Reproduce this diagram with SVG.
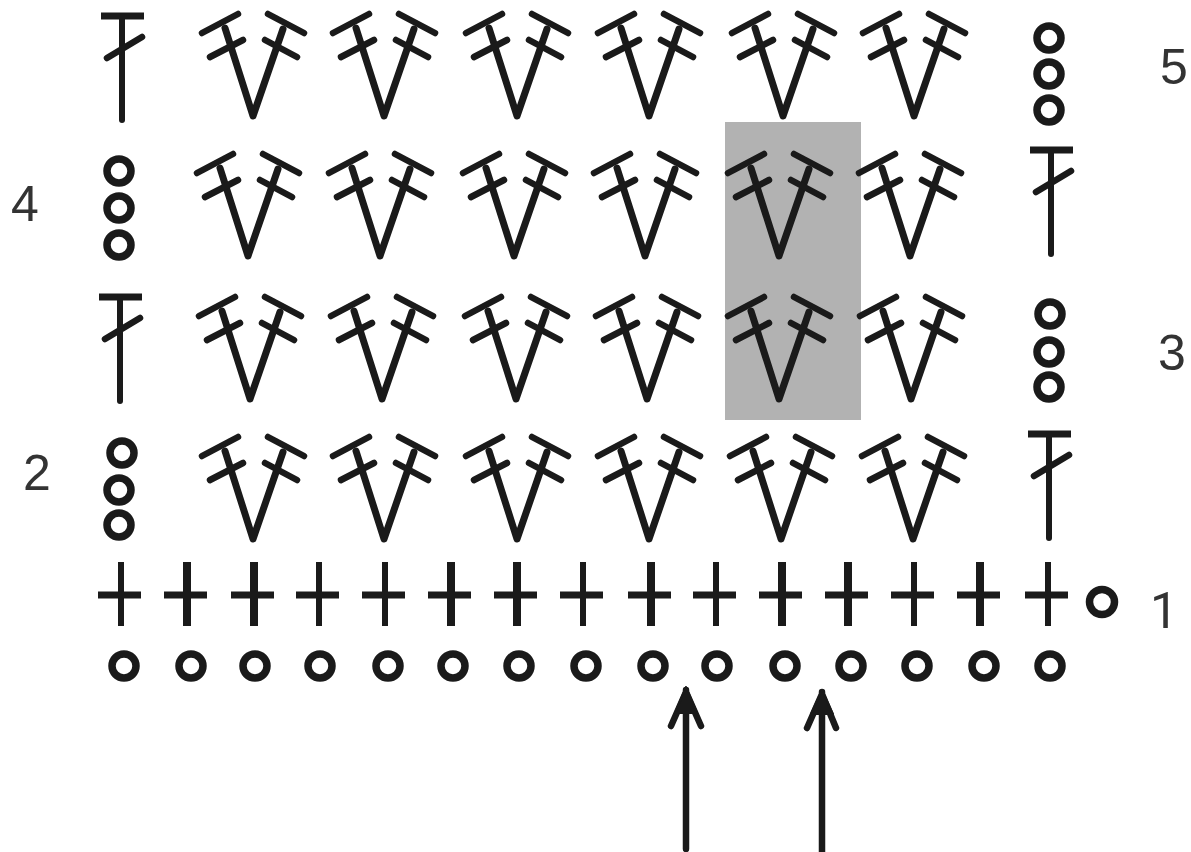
<svg xmlns="http://www.w3.org/2000/svg" width="1191" height="852" viewBox="0 0 1191 852">
<style>
.s{fill:none;stroke:#1a1a1a;stroke-linecap:round;stroke-linejoin:round}
.t{font-family:"Liberation Sans",Arial,sans-serif;font-size:50px;fill:#333}
.c{fill:none;stroke:#1a1a1a;stroke-width:7.5}
.b{stroke-linecap:butt}
</style>
<defs>
<g id="v" class="s">
<path d="M-28 -91L0 -3L30 -90" stroke-width="7"/>
<path d="M-51 -86L-15 -105M-43 -62L-10 -79M15 -105L51 -86M12 -79L44 -62" stroke-width="6.5"/>
</g>
<g id="tt" class="s">
<path class="b" d="M-21 0H22" stroke-width="7"/>
<path d="M0 0V104" stroke-width="6"/>
<path d="M-15 42L20 21" stroke-width="6.5"/>
</g>
<circle id="o" class="c" r="12"/>
<g id="x1" class="s b"><path d="M0 -33V31" stroke-width="6"/><path d="M-23 0H20" stroke-width="7"/></g>
<g id="x2" class="s b"><path d="M0 -33V31" stroke-width="8"/><path d="M-23 0H20" stroke-width="7"/></g>
</defs>
<rect id="highlight" x="725" y="122" width="136" height="298" fill="#b2b2b2"/>
<g id="row5">
<use id="r5t" href="#tt" x="122" y="16"/>
<use id="r5v1" href="#v" x="253" y="119"/><use id="r5v2" href="#v" x="384" y="119"/><use id="r5v3" href="#v" x="517" y="119"/><use id="r5v4" href="#v" x="649" y="119"/><use id="r5v5" href="#v" x="783" y="119"/><use id="r5v6" href="#v" x="914" y="119"/>
<use id="r5o1" href="#o" x="1049" y="38"/><use id="r5o2" href="#o" x="1049" y="74"/><use id="r5o3" href="#o" x="1049" y="110"/>
</g>
<g id="row4">
<use id="r4o1" href="#o" x="119" y="171"/><use id="r4o2" href="#o" x="119" y="208"/><use id="r4o3" href="#o" x="119" y="245"/>
<use id="r4v1" href="#v" x="248" y="259"/><use id="r4v2" href="#v" x="380" y="259"/><use id="r4v3" href="#v" x="514" y="259"/><use id="r4v4" href="#v" x="645" y="259"/><use id="r4v5" href="#v" x="779" y="259"/><use id="r4v6" href="#v" x="910" y="259"/>
<use id="r4t" href="#tt" x="1051" y="150"/>
</g>
<g id="row3">
<use id="r3t" href="#tt" x="120" y="297"/>
<use id="r3v1" href="#v" x="250" y="402"/><use id="r3v2" href="#v" x="382" y="402"/><use id="r3v3" href="#v" x="516" y="402"/><use id="r3v4" href="#v" x="647" y="402"/><use id="r3v5" href="#v" x="779" y="402"/><use id="r3v6" href="#v" x="911" y="402"/>
<use id="r3o1" href="#o" x="1050" y="314"/><use id="r3o2" href="#o" x="1049" y="352"/><use id="r3o3" href="#o" x="1049" y="387"/>
</g>
<g id="row2">
<use id="r2o1" href="#o" x="122" y="453"/><use id="r2o2" href="#o" x="119" y="490"/><use id="r2o3" href="#o" x="119" y="525"/>
<use id="r2v1" href="#v" x="253" y="542"/><use id="r2v2" href="#v" x="384" y="542"/><use id="r2v3" href="#v" x="517" y="542"/><use id="r2v4" href="#v" x="649" y="542"/><use id="r2v5" href="#v" x="781" y="542"/><use id="r2v6" href="#v" x="913" y="542"/>
<use id="r2t" href="#tt" x="1049" y="434"/>
</g>
<g id="row1">
<use id="x01" href="#x1" x="121" y="595"/><use id="x02" href="#x2" x="187" y="595"/><use id="x03" href="#x2" x="254" y="595"/><use id="x04" href="#x1" x="319" y="595"/><use id="x05" href="#x1" x="385" y="595"/><use id="x06" href="#x2" x="451" y="595"/><use id="x07" href="#x2" x="517" y="595"/><use id="x08" href="#x1" x="583" y="595"/><use id="x09" href="#x2" x="651" y="595"/><use id="x10" href="#x1" x="716" y="595"/><use id="x11" href="#x2" x="782" y="595"/><use id="x12" href="#x2" x="848" y="595"/><use id="x13" href="#x1" x="914" y="595"/><use id="x14" href="#x2" x="980" y="595"/><use id="x15" href="#x1" x="1048" y="595"/>
<circle id="extra" class="c" cx="1102" cy="602" r="12.5"/>
</g>
<g id="chain">
<use id="o01" href="#o" x="124" y="666"/><use id="o02" href="#o" x="191" y="666"/><use id="o03" href="#o" x="255" y="666"/><use id="o04" href="#o" x="320" y="666"/><use id="o05" href="#o" x="388" y="666"/><use id="o06" href="#o" x="453" y="666"/><use id="o07" href="#o" x="519" y="666"/><use id="o08" href="#o" x="586" y="666"/><use id="o09" href="#o" x="653" y="666"/><use id="o10" href="#o" x="717" y="666"/><use id="o11" href="#o" x="785" y="666"/><use id="o12" href="#o" x="851" y="666"/><use id="o13" href="#o" x="917" y="666"/><use id="o14" href="#o" x="984" y="666"/><use id="o15" href="#o" x="1050" y="666"/>
</g>
<g id="connectors" class="s" stroke-width="6.5">
<path d="M686 849V690M686 692L671 726M686 692L701 726"/>
<path d="M822 852V692M822 694L807 728M822 694L836 728"/>
<path d="M686 687L675 713H697ZM822 690L811 714H833Z" fill="#1a1a1a" stroke-width="2"/>
</g>
<g id="labels">
<text class="t" x="1160" y="84">5</text>
<text class="t" x="11" y="221">4</text>
<text class="t" x="1158" y="370">3</text>
<text class="t" x="23" y="490">2</text>
<text class="t" x="1150" y="628" style="font-family:Roboto,sans-serif">1</text>
</g>
</svg>
